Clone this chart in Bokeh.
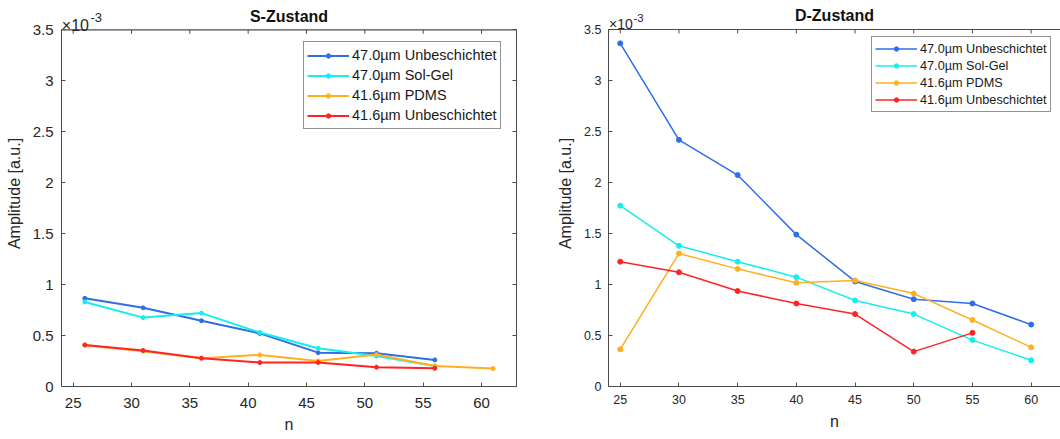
from bokeh.plotting import figure
from bokeh.models import Range1d, LinearAxis, FixedTicker, Label, CustomJSTickFormatter
from bokeh.layouts import row
from bokeh.embed import file_html
from bokeh.resources import INLINE

# ---------------- data (amplitude in units of 1e-3) ----------------
labels = ["47.0µm Unbeschichtet", "47.0µm Sol-Gel", "41.6µm PDMS", "41.6µm Unbeschichtet"]
colors = ["#2e6ee6", "#14eeee", "#ffb020", "#ff2424"]

# S-Zustand
s_x = [26, 31, 36, 41, 46, 51, 56]
s_x_pdms = [26, 31, 36, 41, 46, 51, 56, 61]
s_unb47 = [0.865, 0.772, 0.645, 0.521, 0.332, 0.326, 0.261]
s_solgel47 = [0.830, 0.676, 0.720, 0.530, 0.375, 0.300, 0.202]
s_pdms416 = [0.405, 0.347, 0.278, 0.310, 0.251, 0.313, 0.202, 0.176]
s_unb416 = [0.408, 0.354, 0.278, 0.235, 0.235, 0.189, 0.179]

# D-Zustand
d_x = [25, 30, 35, 40, 45, 50, 55, 60]
d_x_red = [25, 30, 35, 40, 45, 50, 55]
d_unb47 = [3.364, 2.418, 2.073, 1.489, 1.030, 0.856, 0.814, 0.607]
d_solgel47 = [1.773, 1.379, 1.224, 1.072, 0.843, 0.710, 0.455, 0.258]
d_pdms416 = [0.365, 1.304, 1.153, 1.017, 1.040, 0.911, 0.652, 0.384]
d_unb416 = [1.224, 1.120, 0.936, 0.814, 0.710, 0.342, 0.526]

x_ticks = [25, 30, 35, 40, 45, 50, 55, 60]
y_ticks = [0, 0.5, 1, 1.5, 2, 2.5, 3, 3.5]
Y_MAX = 3.5
X_MIN = 24

FONT = "Liberation Sans"
TXT = "#262626"
AXC = "#4a4a4a"
TOP_GAP = 29.3   # px between canvas top and the axes box top


def style_axis(ax, ticks, tick_size, standoff, label_standoff, bounds=None):
    ax.ticker = FixedTicker(ticks=ticks)
    ax.formatter = CustomJSTickFormatter(code="return tick.toString()")
    if bounds is not None:
        ax.bounds = bounds
    ax.major_tick_in = 4
    ax.major_tick_out = 0
    ax.minor_tick_line_color = None
    ax.axis_line_color = AXC
    ax.major_tick_line_color = AXC
    ax.major_label_text_font = FONT
    ax.major_label_text_font_size = tick_size
    ax.major_label_text_color = TXT
    ax.major_label_standoff = standoff
    ax.axis_label_text_font = FONT
    ax.axis_label_text_font_size = "16px"
    ax.axis_label_text_font_style = "normal"
    ax.axis_label_text_color = TXT
    ax.axis_label_standoff = label_standoff


def blank_axis(ticks, bounds):
    ax = LinearAxis(ticker=FixedTicker(ticks=ticks), bounds=bounds,
                    formatter=CustomJSTickFormatter(code="return ''"))
    ax.major_tick_in = 4
    ax.major_tick_out = 0
    ax.minor_tick_line_color = None
    ax.axis_line_color = AXC
    ax.major_tick_line_color = AXC
    ax.major_label_standoff = 0
    return ax


def make_plot(title, title_dy, x_hi, series, mb_left, mb_right, mb_bottom, tick_size,
              x_stand, y_stand, xl_stand, yl_stand, legend_font, item_h,
              legend_loc, lw, msize, exp_sizes, exp_offsets, right_axis):
    frame_h = 439 - mb_bottom
    y_top = Y_MAX * frame_h / (frame_h - TOP_GAP)
    p = figure(width=530, height=439, x_range=Range1d(X_MIN, x_hi), y_range=Range1d(0, y_top),
               output_backend="svg", toolbar_location=None,
               min_border_left=mb_left, min_border_right=mb_right,
               min_border_top=0, min_border_bottom=mb_bottom)
    p.background_fill_color = "white"
    p.border_fill_color = "white"
    p.outline_line_color = None
    p.xgrid.visible = False
    p.ygrid.visible = False

    style_axis(p.xaxis[0], x_ticks, tick_size, x_stand, xl_stand)
    style_axis(p.yaxis[0], y_ticks, tick_size, y_stand, yl_stand, bounds=(0, Y_MAX))
    p.xaxis[0].axis_label = "n"
    p.yaxis[0].axis_label = "Amplitude [a.u.]"

    if right_axis:
        p.add_layout(blank_axis(y_ticks, (0, Y_MAX)), "right")

    # top edge of the axes box with inward ticks
    p.segment(x0=[X_MIN], x1=[x_hi], y0=[Y_MAX], y1=[Y_MAX], line_color=AXC, line_width=1.2)
    tick_len = 4 * y_top / frame_h
    p.segment(x0=x_ticks, x1=x_ticks, y0=[Y_MAX] * len(x_ticks),
              y1=[Y_MAX - tick_len] * len(x_ticks), line_color=AXC, line_width=1)

    for (xs, ys), lab, col in zip(series, labels, colors):
        p.line(xs, ys, line_color=col, line_width=lw, legend_label=lab)
        p.scatter(xs, ys, marker="circle", size=msize, fill_color=col,
                  line_color=col, legend_label=lab)

    lg = p.legend[0]
    lg.location = legend_loc
    lg.margin = 0
    lg.padding = 3
    lg.spacing = 0
    lg.glyph_width = 42
    lg.glyph_height = 11
    lg.label_height = item_h
    lg.label_standoff = 3
    lg.label_text_font = FONT
    lg.label_text_font_size = legend_font
    lg.label_text_color = "#1a1a1a"
    lg.border_line_color = TXT
    lg.border_line_width = 1
    lg.background_fill_color = "white"
    lg.background_fill_alpha = 1.0

    # title above the box
    p.add_layout(Label(x=(X_MIN + x_hi) / 2, y=Y_MAX, y_offset=title_dy, text=title,
                       text_align="center", text_baseline="middle",
                       text_font=FONT, text_font_size="16px", text_font_style="bold",
                       text_color="#111111"))
    # exponent marker x10^-3
    p.add_layout(Label(x=X_MIN, y=Y_MAX, x_offset=exp_offsets[0], y_offset=exp_offsets[1],
                       text="×10", text_baseline="alphabetic",
                       text_font=FONT, text_font_size=exp_sizes[0], text_color=TXT))
    p.add_layout(Label(x=X_MIN, y=Y_MAX, x_offset=exp_offsets[2], y_offset=exp_offsets[3],
                       text="-3", text_baseline="alphabetic",
                       text_font=FONT, text_font_size=exp_sizes[1], text_color=TXT))
    return p


left = make_plot(
    "S-Zustand", 13.3, 63,
    [(s_x, s_unb47), (s_x, s_solgel47), (s_x_pdms, s_pdms416), (s_x, s_unb416)],
    mb_left=61, mb_right=14, mb_bottom=53, tick_size="15px",
    x_stand=11, y_stand=8, xl_stand=5, yl_stand=7,
    legend_font="14.5px", item_h=20, legend_loc=(242, 257), lw=2, msize=4,
    exp_sizes=("16px", "13px"), exp_offsets=(0.3, 4.3, 29, 12.6), right_axis=True)

right = make_plot(
    "D-Zustand", 14.3, 62.5,
    [(d_x, d_unb47), (d_x, d_solgel47), (d_x, d_pdms416), (d_x_red, d_unb416)],
    mb_left=78, mb_right=0, mb_bottom=49, tick_size="12.5px",
    x_stand=8, y_stand=7, xl_stand=6, yl_stand=7,
    legend_font="12.7px", item_h=17, legend_loc=(263, 274), lw=1.5, msize=5,
    exp_sizes=("14px", "11.5px"), exp_offsets=(0.5, 5, 25, 11), right_axis=False)

layout = row(left, right)
open("out.html", "w").write(file_html(layout, INLINE))
